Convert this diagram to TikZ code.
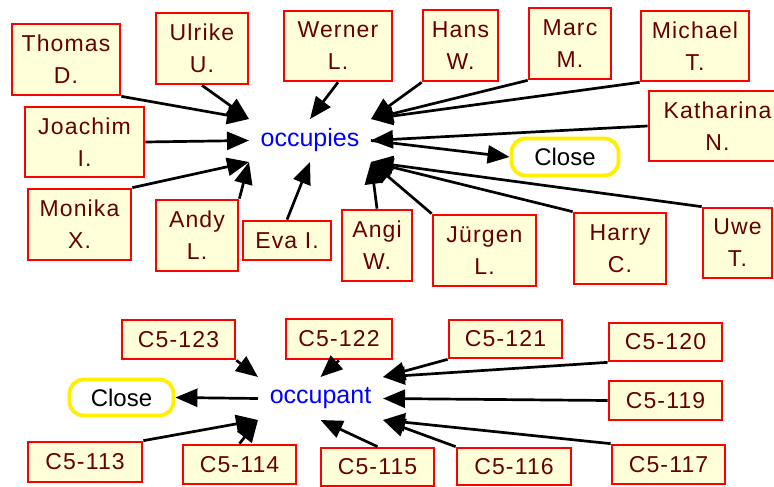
\documentclass[tikz,border=0pt]{standalone}
\usepackage{fontspec}
\setmainfont{Liberation Sans}
\newfontfamily\boxfont[LetterSpace=5]{Liberation Sans}
\usetikzlibrary{arrows.meta}
\definecolor{boxred}{RGB}{255,0,0}
\definecolor{boxfill}{RGB}{255,255,218}
\definecolor{nametext}{RGB}{102,0,0}
\definecolor{hubblue}{RGB}{0,0,255}
\definecolor{closeyellow}{RGB}{255,240,0}
\begin{document}
\begin{tikzpicture}[x=1bp,y=-1bp,
  entry/.style={draw=boxred, line width=2.7bp, fill=boxfill, text=nametext,
    inner sep=0pt, align=center, font=\boxfont\fontsize{23bp}{32bp}\selectfont},
  hub/.style={inner sep=0pt, outer sep=0pt, text=hubblue,
    font=\fontsize{25bp}{30bp}\selectfont},
  closebtn/.style={draw=closeyellow, line width=3.8bp, rounded corners=14bp,
    fill=white, inner sep=0pt, font=\fontsize{24bp}{28bp}\selectfont},
  link/.style={line width=2.7bp, -{Triangle[length=22bp,width=18bp]}},
]
\useasboundingbox (0,0) rectangle (774,487);

% ---- upper cluster: people pointing to "occupies" ----
\node[hub, minimum width=122bp, minimum height=43bp] (occ) at (310,140.5) {occupies};

\node[entry, minimum width=108bp, minimum height=71bp] (thomas) at (66,59.5) {Thomas\\D.};
\node[entry, minimum width=92bp, minimum height=71bp] (ulrike) at (202,48.5) {Ulrike\\U.};
\node[entry, minimum width=108bp, minimum height=70bp] (werner) at (338,46) {Werner\\L.};
\node[entry, minimum width=75bp, minimum height=71bp] (hans) at (460.5,45.5) {Hans\\W.};
\node[entry, minimum width=82bp, minimum height=71bp] (marc) at (570,43.5) {Marc\\M.};
\node[entry, minimum width=108bp, minimum height=70bp] (michael) at (695,46) {Michael\\T.};
\node[entry, minimum width=137bp, minimum height=70bp] (katharina) at (717.5,126) {Katharina\\N.};
\node[entry, minimum width=119bp, minimum height=70bp] (joachim) at (84.5,142) {Joachim\\I.};
\node[entry, minimum width=103bp, minimum height=71bp] (monika) at (79.5,224.5) {Monika\\X.};
\node[entry, minimum width=82bp, minimum height=71bp] (andy) at (197,235.5) {Andy\\L.};
\node[entry, minimum width=88bp, minimum height=39bp] (eva) at (287,240.5) {Eva I.};
\node[entry, minimum width=70bp, minimum height=71bp] (angi) at (377,245.5) {Angi\\W.};
\node[entry, minimum width=103bp, minimum height=71bp] (jurgen) at (484.5,250.5) {Jürgen\\L.};
\node[entry, minimum width=92bp, minimum height=71bp] (harry) at (620,248.5) {Harry\\C.};
\node[entry, minimum width=69bp, minimum height=70bp] (uwe) at (737.5,243) {Uwe\\T.};
\node[closebtn, minimum width=107bp, minimum height=37bp] (close1) at (565,157) {Close};

\draw[link] (thomas.south east) -- (occ.north west);
\draw[link] (ulrike.south) -- (occ.north west);
\draw[link] (werner.south) -- (occ.north);
\draw[link] (joachim.east) -- (occ.west);
\draw[link] (monika.north east) -- (occ.south west);
\draw[link] (andy.north east) -- (occ.south west);
\draw[link] (eva.north) -- (occ.south);
\draw[link] (angi.north) -- (occ.south east);
\draw[link] (jurgen.north west) -- (occ.south east);
\draw[link] (harry.north west) -- (occ.south east);
\draw[link] (uwe.north west) -- (occ.south east);
\draw[link] (hans.south west) -- (occ.north east);
\draw[link] (marc.south west) -- (occ.north east);
\draw[link] (michael.south west) -- (occ.north east);
\draw[link] (katharina.west) -- (occ.east);
\draw[link] (occ.east) -- (close1.west);

% ---- lower cluster: rooms pointing to "occupant" ----
\node[hub, minimum width=125bp, minimum height=43bp] (occu) at (320.5,398.5) {occupant};

\node[entry, minimum width=113bp, minimum height=39bp] (c123) at (178.5,339.5) {C5-123};
\node[entry, minimum width=106bp, minimum height=40bp] (c122) at (339,339) {C5-122};
\node[entry, minimum width=113bp, minimum height=38bp] (c121) at (505.5,339) {C5-121};
\node[entry, minimum width=113bp, minimum height=38bp] (c120) at (665.5,342) {C5-120};
\node[entry, minimum width=113bp, minimum height=39bp] (c119) at (665.5,400.5) {C5-119};
\node[entry, minimum width=113bp, minimum height=39bp] (c117) at (668.5,464.5) {C5-117};
\node[entry, minimum width=114bp, minimum height=37bp] (c116) at (514,466.5) {C5-116};
\node[entry, minimum width=113bp, minimum height=38bp] (c115) at (377.5,467) {C5-115};
\node[entry, minimum width=113bp, minimum height=39bp] (c114) at (239.5,464.5) {C5-114};
\node[entry, minimum width=114bp, minimum height=40bp] (c113) at (85,462) {C5-113};
\node[closebtn, minimum width=104bp, minimum height=36bp] (close2) at (121.5,397.5) {Close};

\draw[link] (c123.south east) -- (occu.north west);
\draw[link] (c122.south) -- (occu.north);
\draw[link] (c121.south west) -- (occu.north east);
\draw[link] (c120.south west) -- (occu.north east);
\draw[link] (c119.west) -- (occu.east);
\draw[link] (c117.north west) -- (occu.south east);
\draw[link] (c116.north west) -- (occu.south east);
\draw[link] (c115.north) -- (occu.south);
\draw[link] (c114.north) -- (occu.south west);
\draw[link] (c113.north east) -- (occu.south west);
\draw[link] (occu.west) -- (close2.east);
\end{tikzpicture}
\end{document}
